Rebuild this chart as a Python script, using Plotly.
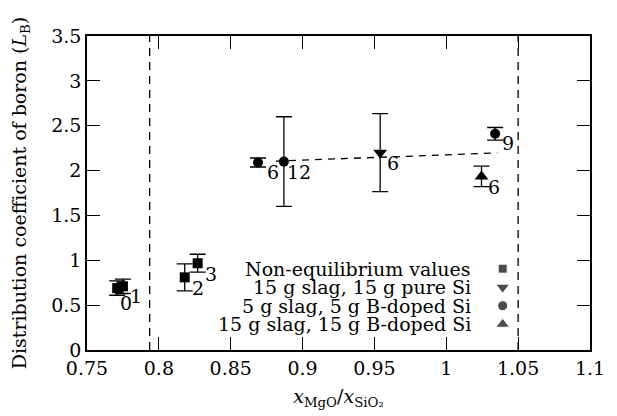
import plotly.graph_objects as go

FONT = "DejaVu Serif"
FS = 19

# Non-equilibrium values (squares)
neq_x = [0.771, 0.775, 0.818, 0.827]
neq_y = [0.69, 0.71, 0.81, 0.967]
neq_err = [0.08, 0.08, 0.15, 0.10]
neq_lab = ["0", "1", "2", "3"]

# 15 g slag, 15 g pure Si (down triangles)
pure_x = [0.954]
pure_y = [2.20]
pure_err = [0.435]
pure_lab = ["6"]

# 5 g slag, 5 g B-doped Si (circles)
b5_x = [0.869, 0.887, 1.034]
b5_y = [2.09, 2.10, 2.41]
b5_err = [0.05, 0.50, 0.07]
b5_lab = ["6", "12", "9"]

# 15 g slag, 15 g B-doped Si (up triangles)
b15_x = [1.0245]
b15_y = [1.935]
b15_err = [0.115]
b15_lab = ["6"]

# fitted dashed line
fit_x = [0.8815, 1.0355]
fit_y = [2.105, 2.197]

# vertical dashed boundaries
vlines = [0.7936, 1.050]

legend_names = ["Non-equilibrium values", "15 g slag, 15 g pure Si",
                "5 g slag, 5 g B-doped Si", "15 g slag, 15 g B-doped Si"]
legend_symbols = ["square", "triangle-down", "circle", "triangle-up"]
legend_sizes = [9, 12, 10, 12]

fig = go.Figure()

fig.add_trace(go.Scatter(x=fit_x, y=fit_y, mode="lines",
                         line=dict(color="black", width=1.3, dash="7px,6px"),
                         showlegend=False, hoverinfo="skip"))

series = [
    (neq_x, neq_y, neq_err, "square", 10),
    (pure_x, pure_y, pure_err, "triangle-down", 12),
    (b5_x, b5_y, b5_err, "circle", 10),
    (b15_x, b15_y, b15_err, "triangle-up", 12),
]
for xs, ys, es, sym, sz in series:
    fig.add_trace(go.Scatter(
        x=xs, y=ys, mode="markers",
        marker=dict(symbol=sym, size=sz, color="black"),
        error_y=dict(type="data", array=es, visible=True, color="black",
                     thickness=1.3, width=8),
        showlegend=False))

# point labels (offsets in px)
label_sets = [
    (neq_x, neq_y, neq_lab, [(9, -15), (13, -10), (13, -11), (13, -11)]),
    (pure_x, pure_y, pure_lab, [(13, -10)]),
    (b5_x, b5_y, b5_lab, [(15, -9), (15, -10), (13, -9)]),
    (b15_x, b15_y, b15_lab, [(12, -11)]),
]
for xs, ys, labs, offs in label_sets:
    for x, y, t, (dx, dy) in zip(xs, ys, labs, offs):
        fig.add_annotation(x=x, y=y, text=t, showarrow=False,
                           xshift=dx, yshift=dy,
                           font=dict(family=FONT, size=FS, color="black"))

# legend: markers on an overlay axis, text as annotations
leg_y = [0.259, 0.200, 0.141, 0.082]
fig.add_trace(go.Scatter(
    x=[0.8264] * 4, y=leg_y, mode="markers", xaxis="x2", yaxis="y2",
    marker=dict(symbol=legend_symbols, size=legend_sizes, color="black"),
    showlegend=False, hoverinfo="skip"))
for name, yy in zip(legend_names, leg_y):
    fig.add_annotation(x=0.765, y=yy, xref="paper", yref="paper",
                       xanchor="right", yanchor="middle", text=name,
                       showarrow=False, borderpad=0,
                       font=dict(family=FONT, size=FS, color="black"))

for v in vlines:
    fig.add_shape(type="line", x0=v, x1=v, y0=0, y1=1, xref="x", yref="paper",
                  line=dict(color="black", width=1.3, dash="8px,6px"))

axis_common = dict(showline=True, linecolor="black", linewidth=1.5,
                   mirror="ticks", ticks="inside", ticklen=13, tickwidth=1.2,
                   tickcolor="black", showgrid=False, zeroline=False,
                   tickfont=dict(family=FONT, size=FS, color="black"))

fig.update_layout(
    width=617, height=416,
    margin=dict(l=87, r=16, t=36, b=65),
    plot_bgcolor="white", paper_bgcolor="white",
    font=dict(family=FONT, size=FS, color="black"),
    xaxis=dict(range=[0.75, 1.1], tickvals=[0.75, 0.8, 0.85, 0.9, 0.95, 1.0, 1.05, 1.1],
               ticktext=["0.75", "0.8", "0.85", "0.9", "0.95", "1", "1.05", "1.1"],
               title=dict(text="<i>x</i><sub>MgO</sub>/<i>x</i><sub>SiO₂</sub>",
                          font=dict(family=FONT, size=FS), standoff=12),
               **axis_common),
    yaxis=dict(range=[0, 3.5], tickvals=[0, 0.5, 1, 1.5, 2, 2.5, 3, 3.5],
               ticktext=["0", "0.5", "1", "1.5", "2", "2.5", "3", "3.5"],
               title=dict(text="Distribution coefficient of boron (<i>L</i><sub>B</sub>)",
                          font=dict(family=FONT, size=FS), standoff=20),
               **axis_common),
    xaxis2=dict(range=[0, 1], overlaying="x", visible=False, fixedrange=True),
    yaxis2=dict(range=[0, 1], overlaying="y", visible=False, fixedrange=True),
    showlegend=False,
)

fig.write_html("out.html")
